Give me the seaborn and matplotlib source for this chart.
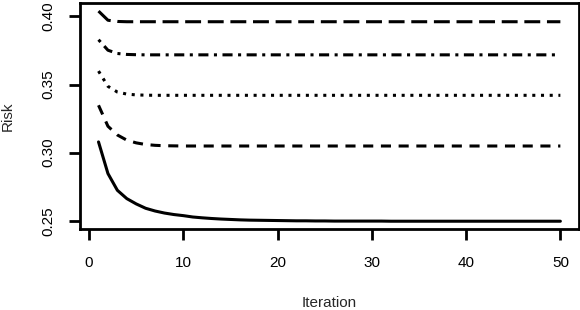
import numpy as np
import pandas as pd
import matplotlib
matplotlib.use("Agg")
import matplotlib.pyplot as plt
import seaborn as sns

# Risk per iteration (5 runs)
iteration = list(range(1, 51))

risk_solid = [0.3079, 0.2847, 0.2724, 0.2663, 0.2624, 0.2592, 0.2572, 0.2557, 0.2546, 0.2538,
              0.2528, 0.2522, 0.2517, 0.2513, 0.2510, 0.2507, 0.2505, 0.2504, 0.2503, 0.2502,
              0.2501, 0.2500, 0.2500, 0.2499, 0.2499, 0.2498, 0.2498, 0.2498, 0.2498, 0.2498,
              0.2498, 0.2497, 0.2497, 0.2497, 0.2497, 0.2497, 0.2497, 0.2497, 0.2497, 0.2497,
              0.2497, 0.2497, 0.2497, 0.2497, 0.2497, 0.2497, 0.2497, 0.2497, 0.2497, 0.2497]

risk_dashed = [0.3348, 0.3194, 0.3130, 0.3092, 0.3072, 0.3060, 0.3054, 0.3051, 0.3050, 0.3049,
               0.3049, 0.3049, 0.3049, 0.3049, 0.3049, 0.3049, 0.3049, 0.3049, 0.3049, 0.3049,
               0.3049, 0.3049, 0.3049, 0.3049, 0.3049, 0.3049, 0.3049, 0.3049, 0.3049, 0.3049,
               0.3049, 0.3049, 0.3049, 0.3049, 0.3049, 0.3049, 0.3049, 0.3049, 0.3049, 0.3049,
               0.3049, 0.3049, 0.3049, 0.3049, 0.3049, 0.3049, 0.3049, 0.3049, 0.3049, 0.3049]

risk_dotted = [0.3599, 0.3487, 0.3445, 0.3430, 0.3424, 0.3422, 0.3421, 0.3421, 0.3421, 0.3421,
               0.3421, 0.3421, 0.3421, 0.3421, 0.3421, 0.3421, 0.3421, 0.3421, 0.3421, 0.3421,
               0.3421, 0.3421, 0.3421, 0.3421, 0.3421, 0.3421, 0.3421, 0.3421, 0.3421, 0.3421,
               0.3421, 0.3421, 0.3421, 0.3421, 0.3421, 0.3421, 0.3421, 0.3421, 0.3421, 0.3421,
               0.3421, 0.3421, 0.3421, 0.3421, 0.3421, 0.3421, 0.3421, 0.3421, 0.3421, 0.3421]

risk_dotdash = [0.3829, 0.3752, 0.3728, 0.3721, 0.3719, 0.3718, 0.3718, 0.3718, 0.3718, 0.3718,
                0.3718, 0.3718, 0.3718, 0.3718, 0.3718, 0.3718, 0.3718, 0.3718, 0.3718, 0.3718,
                0.3718, 0.3718, 0.3718, 0.3718, 0.3718, 0.3718, 0.3718, 0.3718, 0.3718, 0.3718,
                0.3718, 0.3718, 0.3718, 0.3718, 0.3718, 0.3718, 0.3718, 0.3718, 0.3718, 0.3718,
                0.3718, 0.3718, 0.3718, 0.3718, 0.3718, 0.3718, 0.3718, 0.3718, 0.3718, 0.3718]

risk_longdash = [0.4039, 0.3972, 0.3963, 0.3961, 0.3961, 0.3961, 0.3961, 0.3961, 0.3961, 0.3961,
                 0.3961, 0.3961, 0.3961, 0.3961, 0.3961, 0.3961, 0.3961, 0.3961, 0.3961, 0.3961,
                 0.3961, 0.3961, 0.3961, 0.3961, 0.3961, 0.3961, 0.3961, 0.3961, 0.3961, 0.3961,
                 0.3961, 0.3961, 0.3961, 0.3961, 0.3961, 0.3961, 0.3961, 0.3961, 0.3961, 0.3961,
                 0.3961, 0.3961, 0.3961, 0.3961, 0.3961, 0.3961, 0.3961, 0.3961, 0.3961, 0.3961]

x_ticks = [0, 10, 20, 30, 40, 50]
y_ticks = [0.25, 0.30, 0.35, 0.40]

series = {"solid": risk_solid, "dashed": risk_dashed, "dotted": risk_dotted,
          "dotdash": risk_dotdash, "longdash": risk_longdash}

df = pd.concat([pd.DataFrame({"Iteration": iteration, "Risk": v, "run": k})
                for k, v in series.items()], ignore_index=True)

# R-like line types, in units of line width
dash_styles = {"solid": "", "dashed": (3.3, 2.5), "dotted": (1.0, 1.85),
               "dotdash": (1.0, 1.8, 3.3, 1.8), "longdash": (5.2, 2.2)}

sns.set_style("white")
plt.rcParams['font.family'] = ['Liberation Sans', 'DejaVu Sans']

fig = plt.figure(figsize=(5.8, 3.1), dpi=100)
ax = fig.add_axes([0.138, 0.260, 0.860, 0.731])

sns.lineplot(data=df, x="Iteration", y="Risk", style="run", dashes=dash_styles,
             color="black", linewidth=2.2, legend=False, ax=ax)

ax.set_xlim(-0.96, 51.96)
ax.set_ylim(0.2437, 0.4100)
ax.set_xticks(x_ticks)
ax.set_yticks(y_ticks)
ax.set_xticklabels([str(t) for t in x_ticks], fontsize=11)
ax.set_yticklabels([f"{t:.2f}" for t in y_ticks], fontsize=11, rotation=90, va="center")
ax.tick_params(bottom=True, left=True, direction="out", length=8, width=2,
               color="black", labelcolor="black")
ax.tick_params(axis="x", pad=11)
ax.tick_params(axis="y", pad=10)

for sp in ax.spines.values():
    sp.set_visible(True)
    sp.set_color("black")
    sp.set_linewidth(2)

ax.set_xlabel("Iteration", fontsize=11)
ax.xaxis.set_label_coords(0.5, -0.295)
ax.set_ylabel("Risk", fontsize=11, labelpad=19)

fig.savefig("out.png", dpi=100)
